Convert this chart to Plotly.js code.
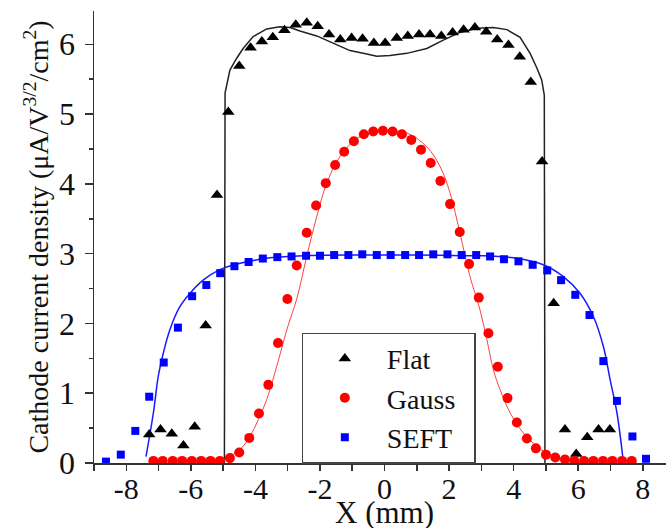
<!DOCTYPE html>
<html>
<head>
<meta charset="utf-8">
<script src="https://cdn.plot.ly/plotly-3.0.1.min.js"></script>
<style>html,body{margin:0;padding:0;background:#fff;}#chart{width:666px;height:528px;}</style>
</head>
<body>
<div id="chart"></div>
<script>
// ---- Flat (triangles) ----
const flatX = [-7.29, -6.94, -6.59, -6.23, -5.88, -5.54, -5.19, -4.84, -4.50, -4.15, -3.80, -3.46, -3.10, -2.75, -2.41, -2.07, -1.72, -1.37, -1.02, -0.68, -0.33, 0.02, 0.38, 0.72, 1.07, 1.41, 1.76, 2.11, 2.45, 2.80, 3.15, 3.49, 3.84, 4.19, 4.53, 4.88, 5.24, 5.59, 5.94, 6.28, 6.63, 6.98];
const flatY = [0.41, 0.48, 0.42, 0.25, 0.52, 1.97, 3.84, 5.03, 5.69, 5.95, 6.04, 6.10, 6.20, 6.28, 6.31, 6.26, 6.14, 6.07, 6.09, 6.08, 6.02, 6.02, 6.09, 6.12, 6.14, 6.14, 6.12, 6.17, 6.21, 6.24, 6.18, 6.07, 5.99, 5.82, 5.46, 4.32, 2.29, 0.48, 0.13, 0.37, 0.48, 0.48];
const flatLineX = [-4.96, -4.94, -4.79, -4.58, -4.38, -4.07, -3.65, -3.24, -2.93, -2.62, -2.10, -1.59, -1.07, -0.55, -0.24, 0.17, 0.69, 1.31, 1.82, 2.34, 2.86, 3.37, 3.79, 4.20, 4.51, 4.72, 4.87, 4.95, 4.97];
const flatLineY = [0, 5.30, 5.63, 5.80, 5.94, 6.11, 6.22, 6.25, 6.24, 6.19, 6.12, 6.02, 5.91, 5.86, 5.83, 5.84, 5.87, 5.94, 6.06, 6.17, 6.23, 6.24, 6.21, 6.10, 5.87, 5.66, 5.49, 5.27, 0];

// ---- Gauss (circles) ----
const gaussX = [-7.16, -6.87, -6.56, -6.27, -5.97, -5.68, -5.39, -5.10, -4.79, -4.50, -4.19, -3.89, -3.60, -3.30, -3.01, -2.72, -2.41, -2.12, -1.82, -1.53, -1.25, -0.95, -0.64, -0.35, -0.05, 0.25, 0.54, 0.83, 1.13, 1.43, 1.73, 2.03, 2.33, 2.62, 2.92, 3.22, 3.51, 3.81, 4.10, 4.41, 4.69, 5.00, 5.29, 5.59, 5.88, 6.18, 6.47, 6.77, 7.06, 7.36, 7.66];
const gaussY = [0.03, 0.03, 0.03, 0.03, 0.03, 0.03, 0.03, 0.03, 0.07, 0.15, 0.36, 0.71, 1.12, 1.72, 2.35, 2.83, 3.30, 3.69, 4.01, 4.27, 4.46, 4.61, 4.71, 4.75, 4.76, 4.75, 4.71, 4.63, 4.49, 4.30, 4.04, 3.71, 3.31, 2.85, 2.37, 1.86, 1.38, 0.93, 0.58, 0.35, 0.21, 0.12, 0.08, 0.05, 0.03, 0.03, 0.03, 0.03, 0.03, 0.03, 0.03];
const gaussLineX = [-5.05, -4.79, -4.48, -4.17, -3.91, -3.65, -3.30, -3.00, -2.72, -2.41, -2.10, -1.79, -1.38, -0.86, -0.35, -0.04, 0.69, 1.31, 1.72, 2.03, 2.34, 2.65, 2.96, 3.17, 3.37, 3.58, 3.89, 4.30, 4.72, 5.03, 5.44, 5.65];
const gaussLineY = [0.03, 0.10, 0.19, 0.38, 0.62, 0.91, 1.45, 1.95, 2.35, 2.96, 3.53, 4.01, 4.39, 4.65, 4.74, 4.76, 4.73, 4.53, 4.25, 3.87, 3.29, 2.67, 2.19, 1.77, 1.34, 1.05, 0.72, 0.43, 0.24, 0.14, 0.07, 0.03];

// ---- SEFT (squares) ----
const seftX = [-8.63, -8.17, -7.72, -7.29, -6.84, -6.40, -5.96, -5.52, -5.09, -4.65, -4.21, -3.77, -3.32, -2.88, -2.43, -2.00, -1.56, -1.12, -0.69, -0.24, 0.19, 0.64, 1.07, 1.51, 1.95, 2.39, 2.84, 3.27, 3.70, 4.15, 4.59, 5.04, 5.47, 5.91, 6.35, 6.78, 7.20, 7.68, 8.10];
const seftY = [0.02, 0.12, 0.46, 0.95, 1.44, 1.94, 2.39, 2.55, 2.72, 2.82, 2.88, 2.93, 2.95, 2.96, 2.97, 2.97, 2.98, 2.98, 2.99, 2.98, 2.98, 2.98, 2.98, 2.99, 2.99, 2.98, 2.98, 2.96, 2.92, 2.89, 2.84, 2.76, 2.62, 2.41, 2.12, 1.46, 0.89, 0.38, 0.06];
const seftLineX = [-7.39, -7.16, -7.01, -6.85, -6.65, -6.34, -6.03, -5.62, -5.10, -4.58, -3.96, -3.55, -2.5, -1.0, 0.0, 1.0, 2.5, 2.96, 3.99, 4.92, 5.54, 6.06, 6.47, 6.78, 6.99, 7.20, 7.38];
const seftLineY = [0.09, 0.72, 1.24, 1.58, 1.91, 2.24, 2.43, 2.62, 2.77, 2.85, 2.91, 2.94, 2.97, 2.98, 2.98, 2.98, 2.97, 2.97, 2.94, 2.84, 2.67, 2.43, 2.10, 1.67, 1.19, 0.72, 0.09];

// ---- Axis ticks / labels ----
const xTickVals = [-8, -6, -4, -2, 0, 2, 4, 6, 8];
const xTickText = ['-8', '-6', '-4', '-2', '0', '2', '4', '6', '8'];
const topTickVals = [-9, -7.2, -5.4, -3.6, -1.8, 0, 1.8, 3.6, 5.4, 7.2];
const yTickVals = [0, 1, 2, 3, 4, 5, 6];
const seriesNames = ['Flat', 'Gauss', 'SEFT'];
const xTitle = 'X (mm)';
const yTitle = 'Cathode current density (μA/V<sup>3/2</sup>/cm<sup>2</sup>)';

const FONT = 'Liberation Serif, Times New Roman, serif';
const AX = '#333';
const PAD = '\u00a0\u00a0';

const traces = [
  {x: flatLineX, y: flatLineY, mode: 'lines', line: {color: '#222', width: 1.5}, showlegend: false, hoverinfo: 'skip'},
  {x: gaussLineX, y: gaussLineY, mode: 'lines', line: {color: '#ff4040', width: 1, shape: 'spline'}, showlegend: false, hoverinfo: 'skip'},
  {x: seftLineX, y: seftLineY, mode: 'lines', line: {color: '#1a1aff', width: 1.5, shape: 'spline'}, showlegend: false, hoverinfo: 'skip'},
  {x: flatX, y: flatY, mode: 'markers', name: seriesNames[0] + PAD, marker: {symbol: 'triangle-up', size: 11, color: '#000'}},
  {x: gaussX, y: gaussY, mode: 'markers', name: seriesNames[1] + PAD, marker: {symbol: 'circle', size: 10, color: '#ff0000'}},
  {x: seftX, y: seftY, mode: 'markers', name: seriesNames[2] + PAD, marker: {symbol: 'square', size: 8, color: '#0000ff'}}
];

const layout = {
  width: 666, height: 528,
  margin: {l: 94, r: 0, t: 11, b: 65},
  paper_bgcolor: '#fff', plot_bgcolor: '#fff',
  font: {family: FONT, color: '#111', size: 30},
  showlegend: true,
  legend: {
    x: 0.363, y: 0.2887, xanchor: 'left', yanchor: 'top',
    bordercolor: '#444', borderwidth: 1.2, bgcolor: '#fff',
    font: {family: FONT, size: 28, color: '#111'},
    itemwidth: 74
  },
  xaxis: {
    range: [-9, 8.72], showgrid: false, zeroline: false,
    showline: true, linecolor: AX, linewidth: 1.5,
    ticks: 'outside', ticklen: 6, tickwidth: 1.5, tickcolor: AX,
    tickvals: xTickVals, ticktext: xTickText,
    minor: {dtick: 1, ticks: 'outside', ticklen: 6, tickwidth: 1.5, tickcolor: AX},
    tickfont: {family: FONT, size: 30, color: '#111'},
    ticklabelstandoff: -8
  },
  xaxis2: {
    overlaying: 'x', side: 'top', range: [-9, 8.72], showgrid: false, zeroline: false,
    showline: true, linecolor: '#555', linewidth: 2,
    ticks: 'inside', ticklen: 4, tickwidth: 1.5, tickcolor: AX,
    tickvals: topTickVals, showticklabels: false
  },
  yaxis: {
    range: [0, 6.477], showgrid: false, zeroline: false,
    showline: true, linecolor: AX, linewidth: 1.5,
    ticks: 'outside', ticklen: 8, tickwidth: 1.5, tickcolor: AX,
    tickvals: yTickVals,
    minor: {dtick: 0.5, ticks: 'outside', ticklen: 4, tickwidth: 1.5, tickcolor: AX},
    tickfont: {family: FONT, size: 32, color: '#111'},
    ticklabelstandoff: 3,
    title: {text: yTitle, font: {family: FONT, size: 28, color: '#111'}, standoff: 2}
  },
  annotations: [{
    text: xTitle, xref: 'x', x: 0, yref: 'paper', y: 0,
    xanchor: 'center', yanchor: 'middle', yshift: -49, showarrow: false,
    font: {family: FONT, size: 31, color: '#111'}
  }]
};

Plotly.newPlot('chart', traces, layout, {staticPlot: true, displayModeBar: false});
</script>
</body>
</html>
